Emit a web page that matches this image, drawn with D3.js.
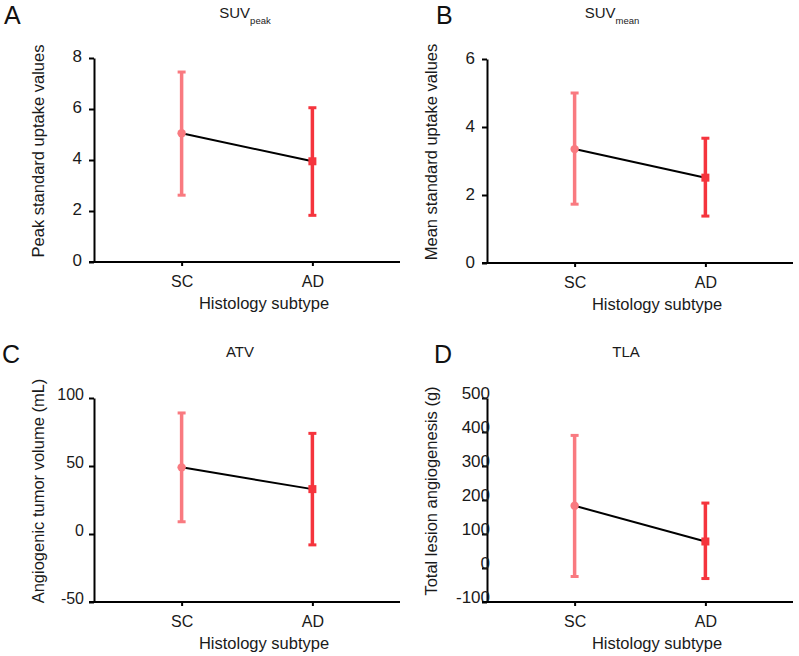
<!DOCTYPE html>
<html>
<head>
<meta charset="utf-8" />
<title>Histology subtype panels</title>
<script src="https://d3js.org/d3.v7.min.js"></script>
<style>
    body { margin: 0; background: #fff; font-family: "Liberation Sans", Arial, sans-serif; }
    .axis path, .axis line { stroke: #000; stroke-width: 2; fill: none; }
    .axis text { fill: #1a1a1a; font-family: "Liberation Sans", Arial, sans-serif; }
</style>
</head>
<body>
<div id="graphic"></div>
<script>
// groups on the x axis
var groups = ["SC", "AD"];

// A: SUVpeak
var suvPeakMean  = [5.05, 3.95];
var suvPeakUpper = [7.45, 6.05];
var suvPeakLower = [2.62, 1.83];
var suvPeakTicks = [0, 2, 4, 6, 8];

// B: SUVmean
var suvMeanMean  = [3.35, 2.51];
var suvMeanUpper = [5.0, 3.67];
var suvMeanLower = [1.73, 1.38];
var suvMeanTicks = [0, 2, 4, 6];

// C: ATV
var atvMean  = [49, 33];
var atvUpper = [89, 74];
var atvLower = [9, -8];
var atvTicks = [-50, 0, 50, 100];

// D: TLA
var tlaMean  = [183, 78];
var tlaUpper = [390, 191];
var tlaLower = [-25, -31];
var tlaTicks = [-100, 0, 100, 200, 300, 400, 500];

var colors = ["#f97a80", "#f5343d"];

var panels = [
    {letter: "A", title: "SUV", sub: "peak", ylab: "Peak standard uptake values",
     mean: suvPeakMean, upper: suvPeakUpper, lower: suvPeakLower, ticks: suvPeakTicks,
     left: 94, top: 58, titleX: 151, lx: 4, ly: 24, pad: 7, dy: -2, fs: 17},
    {letter: "B", title: "SUV", sub: "mean", ylab: "Mean standard uptake values",
     mean: suvMeanMean, upper: suvMeanUpper, lower: suvMeanLower, ticks: suvMeanTicks,
     left: 487, top: 59, titleX: 125, lx: 436, ly: 24, pad: 7, dy: -1, fs: 17},
    {letter: "C", title: "ATV", sub: null, ylab: "Angiogenic tumor volume (mL)",
     mean: atvMean, upper: atvUpper, lower: atvLower, ticks: atvTicks,
     left: 94, top: 398, titleX: 146, lx: 2, ly: 363, pad: 5, dy: -4, fs: 16},
    {letter: "D", title: "TLA", sub: null, ylab: "Total lesion angiogenesis (g)",
     mean: tlaMean, upper: tlaUpper, lower: tlaLower, ticks: tlaTicks,
     left: 487, top: 398, titleX: 139, lx: 434, ly: 363, pad: -8, dy: -4.5, fs: 17}
];

var width = 306, height = 204;

var svg = d3.select("#graphic").append("svg")
    .attr("width", 799)
    .attr("height", 656);

panels.forEach(function (p) {
    var g = svg.append("g")
        .attr("transform", "translate(" + p.left + "," + p.top + ")");

    var x = d3.scalePoint()
        .domain(groups)
        .range([0, width])
        .padding(0.67);

    var y = d3.scaleLinear()
        .domain(d3.extent(p.ticks))
        .range([height, 0]);

    // y axis (plain hyphen for negatives, as in the figure)
    var gy = g.append("g")
        .attr("class", "y axis")
        .call(d3.axisLeft(y).tickValues(p.ticks).tickFormat(function (d) { return String(d); })
            .tickSize(5).tickSizeOuter(0).tickPadding(p.pad));
    gy.selectAll("text")
        .style("font-size", p.fs + "px")
        .attr("transform", "translate(0," + p.dy + ")");

    // x axis, line starts a little left of the y axis
    var gx = g.append("g")
        .attr("class", "x axis")
        .attr("transform", "translate(0," + height + ")")
        .call(d3.axisBottom(x).tickSize(4).tickSizeOuter(0).tickPadding(10));
    gx.select(".domain").attr("d", "M-5,0H" + width);
    gx.selectAll("text").style("font-size", "16px");

    // axis titles
    g.append("text")
        .attr("transform", "translate(-50," + (height / 2 - 9) + ") rotate(-90)")
        .attr("text-anchor", "middle")
        .style("font-size", "16.5px")
        .style("fill", "#1a1a1a")
        .text(p.ylab);

    g.append("text")
        .attr("x", width / 2 + 17)
        .attr("y", height + 47)
        .attr("text-anchor", "middle")
        .style("font-size", "16.5px")
        .style("fill", "#1a1a1a")
        .text("Histology subtype");

    // panel title
    var t = g.append("text")
        .attr("x", p.titleX)
        .attr("y", p.top < 100 ? 18 - p.top : 357 - p.top)
        .attr("text-anchor", "middle")
        .style("font-size", "15px")
        .style("fill", "#1a1a1a");
    t.append("tspan").text(p.title);
    if (p.sub) {
        t.append("tspan").attr("dy", 6).style("font-size", "9.5px").text(p.sub);
    }

    // panel letter
    svg.append("text")
        .attr("x", p.lx)
        .attr("y", p.ly)
        .style("font-size", "25px")
        .style("fill", "#111")
        .text(p.letter);

    var pts = groups.map(function (name, i) {
        return {name: name, mean: p.mean[i], upper: p.upper[i], lower: p.lower[i], color: colors[i]};
    });

    // connecting line
    g.append("path")
        .datum(pts)
        .attr("fill", "none")
        .attr("stroke", "#000")
        .attr("stroke-width", 2)
        .attr("d", d3.line()
            .x(function (d) { return x(d.name); })
            .y(function (d) { return y(d.mean); }));

    // error bars
    var bars = g.selectAll(".err").data(pts).enter().append("g").attr("class", "err");
    bars.append("line")
        .attr("x1", function (d) { return x(d.name); })
        .attr("x2", function (d) { return x(d.name); })
        .attr("y1", function (d) { return y(d.lower); })
        .attr("y2", function (d) { return y(d.upper); })
        .attr("stroke", function (d) { return d.color; })
        .attr("stroke-width", 3.5);
    ["upper", "lower"].forEach(function (k) {
        bars.append("line")
            .attr("x1", function (d) { return x(d.name) - 4; })
            .attr("x2", function (d) { return x(d.name) + 4; })
            .attr("y1", function (d) { return y(d[k]); })
            .attr("y2", function (d) { return y(d[k]); })
            .attr("stroke", function (d) { return d.color; })
            .attr("stroke-width", 3);
    });

    // markers: circle for SC, square for AD
    g.append("circle")
        .attr("cx", x(pts[0].name))
        .attr("cy", y(pts[0].mean))
        .attr("r", 4.2)
        .attr("fill", pts[0].color);
    g.append("rect")
        .attr("x", x(pts[1].name) - 4)
        .attr("y", y(pts[1].mean) - 4)
        .attr("width", 8)
        .attr("height", 8)
        .attr("fill", pts[1].color);
});
</script>
</body>
</html>
